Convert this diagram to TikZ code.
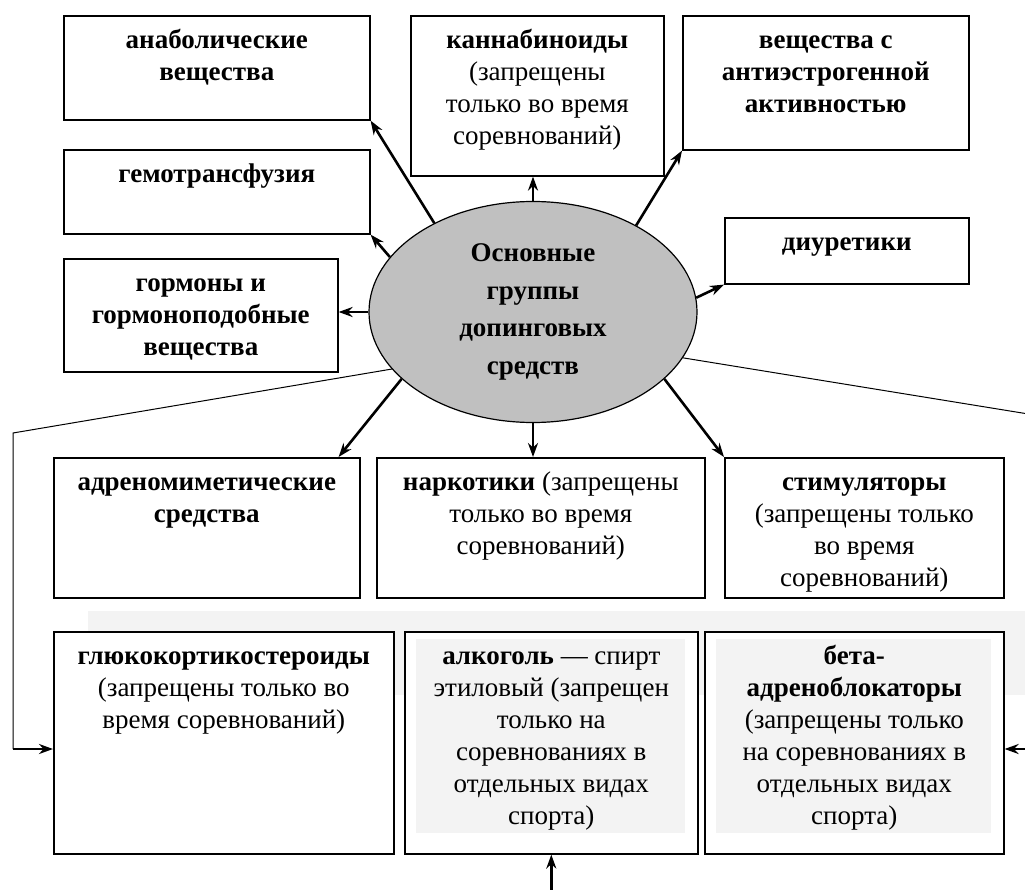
\documentclass[tikz,border=0pt]{standalone}
\usepackage{fontspec}
\setmainfont{Liberation Serif}
\usetikzlibrary{shapes.geometric,arrows.meta}

\definecolor{ovalgray}{RGB}{192,192,192}
\definecolor{bandgray}{RGB}{243,243,243}

% top-aligned text in a box of fixed size (in pt)
\newcommand{\grpbox}[3]{\begin{minipage}[t][#2pt][t]{#1pt}\centering\vspace{10pt}\strut#3\end{minipage}}

\tikzset{
  grp/.style={draw, line width=1.6pt, fill=white, inner sep=0pt, anchor=north west},
  arr/.style={-{Stealth[length=14pt,width=10pt]}, line width=2.6pt},
  link/.style={line width=1pt},
  shaded/.style={path picture={\fill[bandgray] ([shift={(11,7)}]path picture bounding box.north west) rectangle ([shift={(-13,-21)}]path picture bounding box.south east);}}
}

\begin{document}
\begin{tikzpicture}[x=1pt, y=-1pt, font=\fontsize{27}{32}\selectfont]
\path[use as bounding box, clip] (0,0) rectangle (1025,890);

\fill[bandgray] (88,611) rectangle (1040,695);

% upper groups
\node[grp] (anab) at (63,15) {\grpbox{306}{104}{\bfseries анаболические\\ вещества}};
\node[grp] (gemo) at (63,149) {\grpbox{306}{84}{\bfseries гемотрансфузия}};
\node[grp] (gorm) at (63,258) {\grpbox{274}{113}{\bfseries гормоны и\\ гормоноподобные\\ вещества}};
\node[grp] (kann) at (410,15) {\grpbox{253}{160}{{\bfseries каннабиноиды}\\ (запрещены\\ только во время\\ соревнований)}};
\node[grp] (antie) at (682,15) {\grpbox{286}{134}{\bfseries вещества с\\ антиэстрогенной\\ активностью}};
\node[grp] (diur) at (724,217) {\grpbox{244}{66}{\bfseries диуретики}};

\node[ellipse, draw, fill=ovalgray, line width=1.2pt, minimum width=328pt, minimum height=221pt,
      inner sep=0pt, align=center, font=\bfseries\fontsize{27}{37.5}\selectfont]
  (main) at (533,312) {Основные\\ группы\\ допинговых\\ средств};

% lower groups
\node[grp] (adren) at (53,457) {\grpbox{306}{140}{\bfseries адреномиметические\\ средства}};
\node[grp] (nark) at (376,457) {\grpbox{328}{140}{{\bfseries наркотики} (запрещены\\ только во время\\ соревнований)}};
\node[grp] (stim) at (724,457) {\grpbox{279}{140}{{\bfseries стимуляторы}\\ (запрещены только\\ во время\\ соревнований)}};

\node[grp] (gluc) at (53,631) {\grpbox{340}{222}{{\bfseries глюкокортикостероиды}\\ (запрещены только во\\ время соревнований)}};
\node[grp, shaded] (alko) at (404,631) {\grpbox{293}{222}{{\bfseries алкоголь} --- спирт\\ этиловый (запрещен\\ только на\\ соревнованиях в\\ отдельных видах\\ спорта)}};
\node[grp, shaded] (beta) at (704,631) {\grpbox{299}{222}{{\bfseries бета-\\ адреноблокаторы}\\ (запрещены только\\ на соревнованиях в\\ отдельных видах\\ спорта)}};

\draw[arr] (main.138) -- (anab.south east);
\draw[arr] (main.159) -- (gemo.south east);
\draw[arr] (main.west) -- (main.west -| gorm.east);
\draw[arr] (main.north) -- (main.north |- kann.south);
\draw[arr] (main.40) -- (antie.south west);
\draw[arr] (main.5) -- (diur.south west);
\draw[arr] (main.207) -- ([xshift=-22pt]adren.north east);
\draw[arr] (main.south) -- (main.south |- nark.north);
\draw[arr] (main.333) -- (stim.north west);

\coordinate (lt) at (13,433);
\coordinate (lb) at (13,749);
\coordinate (rt) at (1053,418);
\coordinate (rb) at (1053,749);
\coordinate (bt) at (0,900);
\draw[link] (main.202) -- (lt) -- (lb);
\draw[arr] (lb) -- (lb -| gluc.west);
\draw[link] (main.343) -- (rt) -- (rb);
\draw[arr] (rb) -- (rb -| beta.east);
\draw[arr] (alko.south |- bt) -- (alko.south);
\end{tikzpicture}
\end{document}
